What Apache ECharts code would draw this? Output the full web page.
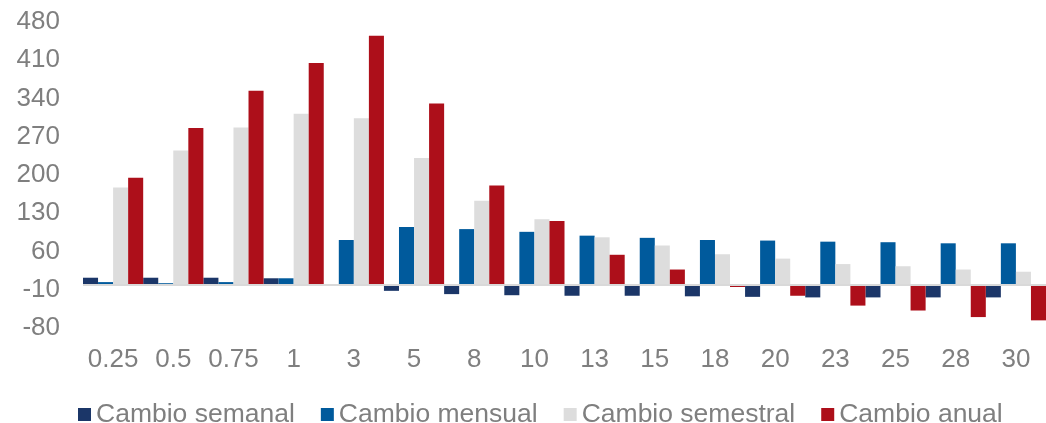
<!DOCTYPE html>
<html>
<head>
    <meta charset="utf-8" />
    <title>ECharts</title>
    <script src="https://cdn.jsdelivr.net/npm/echarts@6.0.0/dist/echarts.min.js"></script>
</head>
<body style="margin:0;background:#fff;">
    <div id="main" style="width: 1046px;height: 423px;"></div>
    <script type="text/javascript">
        // datos
        var categories = ['0.25', '0.5', '0.75', '1', '3', '5', '8', '10', '13', '15', '18', '20', '23', '25', '28', '30'];
        var semanal = [12, 12, 12, 11, 0, -12, -18, -20, -21, -21, -22, -23, -24, -24, -24, -24];
        var mensual = [4, 2, 4, 11, 81, 105, 101, 96, 89, 85, 81, 80, 78, 77, 75, 75];
        var semestral = [177, 245, 287, 312, 304, 231, 153, 119, 86, 71, 55, 47, 37, 33, 27, 23];
        var anual = [195, 286, 354, 405, 455, 331, 181, 116, 54, 27, -5, -21, -39, -48, -60, -66];
        var yMin = -80, yMax = 480, yStep = 70;

        var myChart = echarts.init(document.getElementById('main'));
        var font = 'Liberation Sans, Arial, sans-serif';

        function bar(name, data, color) {
            return {
                name: name,
                type: 'bar',
                data: data,
                barGap: '0%',
                barCategoryGap: '0%',
                itemStyle: { color: color }
            };
        }

        var series = [
            bar('Cambio semanal', semanal, '#1B3668'),
            bar('Cambio mensual', mensual, '#005A9C'),
            bar('Cambio semestral', semestral, '#DDDDDD'),
            bar('Cambio anual', anual, '#AD0F1A')
        ];
        // línea del cero
        series[3].markLine = {
            silent: true,
            symbol: 'none',
            label: { show: false },
            lineStyle: { color: '#D9D9D9', width: 2, type: 'solid' },
            data: [{ yAxis: 0 }]
        };

        var option = {
            animation: false,
            grid: { left: 83, right: 0, top: 22, bottom: 95 },
            legend: {
                left: 78,
                top: 401,
                padding: 0,
                itemWidth: 13,
                itemHeight: 13,
                itemGap: 26,
                icon: 'rect',
                textStyle: { fontSize: 26.5, color: '#7F7F7F', fontFamily: font }
            },
            xAxis: {
                type: 'category',
                data: categories,
                axisLine: { show: false },
                axisTick: { show: false },
                axisLabel: { fontSize: 26, color: '#7F7F7F', fontFamily: font, margin: 19, interval: 0 }
            },
            yAxis: {
                type: 'value',
                min: yMin,
                max: yMax,
                interval: yStep,
                splitLine: { show: false },
                axisLine: { show: false },
                axisTick: { show: false },
                axisLabel: { fontSize: 26, color: '#7F7F7F', fontFamily: font, margin: 23 }
            },
            series: series
        };

        myChart.setOption(option);
    </script>
</body>
</html>
